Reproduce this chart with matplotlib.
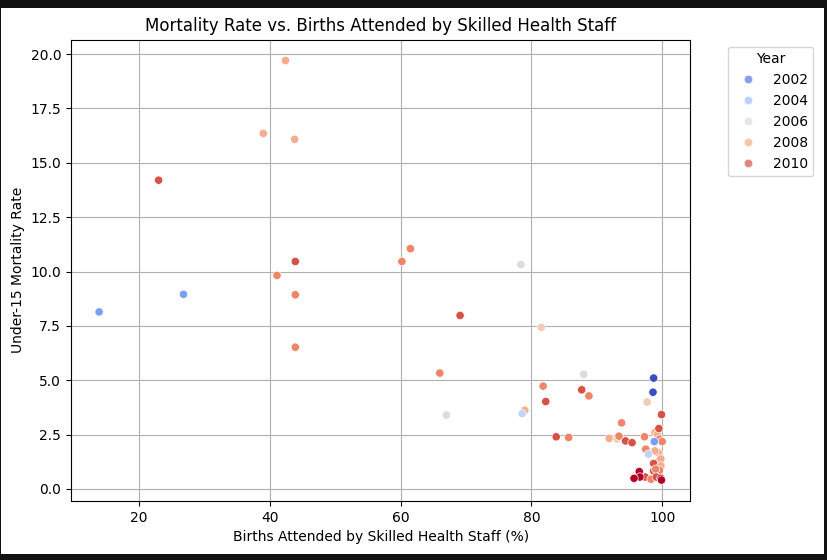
import matplotlib
matplotlib.use('Agg')
import matplotlib.pyplot as plt
import seaborn as sns
import pandas as pd
from matplotlib.patches import Rectangle

# births attended by skilled staff (%), under-15 mortality rate, year
births = [42.4, 39.0, 43.8, 23.0, 61.5, 43.9, 60.2, 41.1, 78.4, 26.8,
          13.9, 43.9, 69.1, 81.5, 43.9, 66.0, 88.0, 98.7, 98.6, 81.8,
          87.7, 82.2, 88.8, 97.7, 67.0, 79.0, 78.6, 99.9, 93.8, 83.8,
          85.7, 91.9, 93.1, 93.4, 94.4, 95.4, 97.3, 98.9, 99.3, 99.5,
          99.6, 100.0, 97.5, 99.4, 98.9, 99.6, 99.8, 98.7, 99.8, 99.6,
          98.7, 99.0, 97.4, 98.3, 99.1, 96.5, 96.6, 95.7, 99.8, 99.9,
          98.8, 97.9]
mortality = [19.7, 16.35, 16.08, 14.2, 11.05, 10.46, 10.46, 9.82, 10.32, 8.95,
             8.14, 8.93, 7.98, 7.43, 6.52, 5.33, 5.27, 5.1, 4.45, 4.73,
             4.56, 4.02, 4.28, 4.0, 3.4, 3.62, 3.47, 3.42, 3.04, 2.4,
             2.37, 2.33, 2.3, 2.43, 2.21, 2.13, 2.4, 2.59, 2.52, 2.78,
             2.29, 2.18, 1.83, 1.67, 1.75, 1.32, 1.38, 1.17, 1.06, 0.86,
             0.83, 0.91, 0.55, 0.45, 0.55, 0.8, 0.55, 0.49, 0.49, 0.41,
             2.18, 1.6]
years = [2008, 2008, 2008, 2010, 2009, 2010, 2009, 2009, 2006, 2003,
         2003, 2009, 2010, 2007, 2009, 2009, 2006, 2001, 2001, 2009,
         2010, 2010, 2009, 2007, 2006, 2008, 2005, 2010, 2009, 2010,
         2009, 2008, 2007, 2009, 2010, 2010, 2009, 2008, 2008, 2010,
         2009, 2009, 2009, 2008, 2008, 2010, 2008, 2010, 2008, 2009,
         2010, 2009, 2010, 2009, 2010, 2011, 2011, 2011, 2011, 2011,
         2003, 2005]

df = pd.DataFrame({'Births': births, 'Mortality': mortality, 'Year': years})

fig = plt.figure(figsize=(8.28, 5.6), dpi=100, facecolor='#111111')
fig.patches.append(Rectangle((0.0012, 0.0107), 0.994, 0.975, transform=fig.transFigure,
                             facecolor='white', edgecolor='none', zorder=-1))
ax = fig.add_axes([0.0857, 0.1053, 0.748, 0.8240])

sns.scatterplot(data=df, x='Births', y='Mortality', hue='Year', palette='coolwarm', ax=ax)

ax.set_title('Mortality Rate vs. Births Attended by Skilled Health Staff')
ax.set_xlabel('Births Attended by Skilled Health Staff (%)')
ax.set_ylabel('Under-15 Mortality Rate')
ax.grid(True)
ax.set_axisbelow(True)
leg = ax.legend(title='Year', bbox_to_anchor=(1.05, 1), loc='upper left')
for h in leg.legend_handles:
    h.set_alpha(0.7)

fig.savefig('out.png', dpi=100, facecolor=fig.get_facecolor())
